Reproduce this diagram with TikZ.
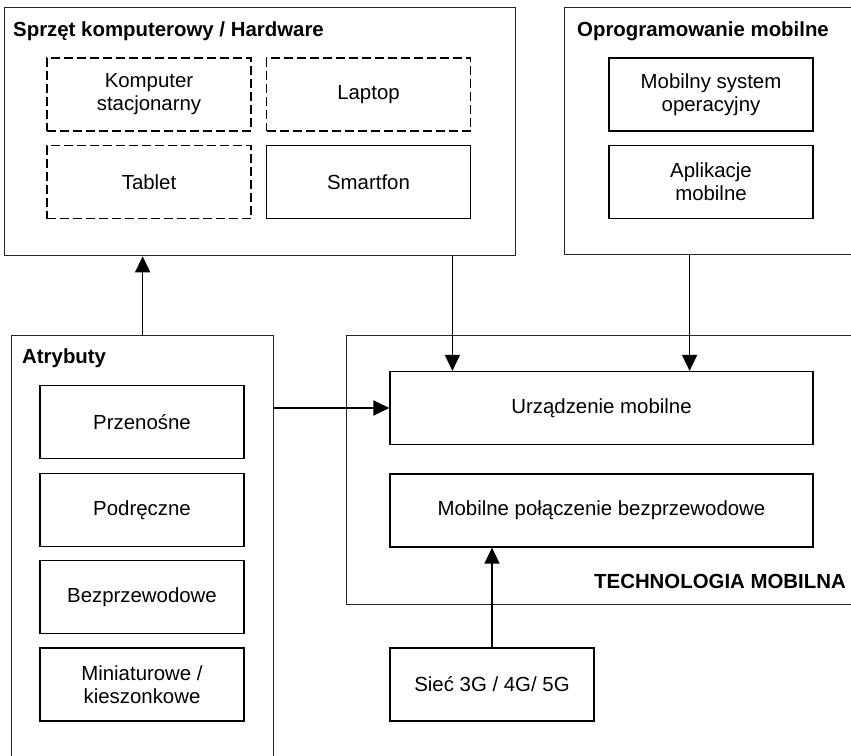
\documentclass[tikz,border=0pt]{standalone}
\usepackage{fontspec}
\setmainfont{Liberation Sans}
\usetikzlibrary{arrows.meta}
\begin{document}
\begin{tikzpicture}[x=1pt,y=-1pt,
  every node/.style={font=\fontsize{20.4}{23}\selectfont, inner sep=0pt},
  group/.style={draw=black!85, line width=1.3pt, anchor=north west},
  item/.style={draw=black, line width=1.2pt, minimum width=204pt, minimum height=73pt, align=center},
  wideitem/.style={item, minimum width=423pt},
  optional/.style={item, dash pattern=on 9pt off 4pt},
  heading/.style={font=\fontsize{20.4}{23}\selectfont\bfseries, anchor=base west},
  link/.style={line width=1.5pt, -{Triangle[length=16pt,width=15pt]}}]
\useasboundingbox (0,0) rectangle (851,755);
\clip (0,0) rectangle (851,755);
\fill[white] (0,0) rectangle (851,755);

% containers
\node[group, minimum width=511pt, minimum height=248pt] (hw) at (4,7) {};
\node[group, minimum width=320pt, minimum height=247pt] (sw) at (564,7) {};
\node[group, minimum width=262pt, minimum height=450pt] (attr) at (11,335) {};
\node[group, minimum width=520pt, minimum height=269pt] (tech) at (346,335) {};

% headings
\node[heading] (hwtitle) at (13,36.5) {Sprzęt komputerowy / Hardware};
\node[heading] (swtitle) at (577,36) {Oprogramowanie mobilne};
\node[heading] (attrtitle) at (22,363) {Atrybuty};
\node[heading] (techtitle) at (594,588) {TECHNOLOGIA MOBILNA};

% hardware
\node[optional] (pc) at (149,94.5) {Komputer\\stacjonarny};
\node[optional] (laptop) at (368.5,94.5) {Laptop};
\node[optional] (tablet) at (149,182) {Tablet};
\node[item] (phone) at (368.5,182) {Smartfon};

% software
\node[item] (os) at (711,94.5) {Mobilny system\\operacyjny};
\node[item] (apps) at (711,182) {Aplikacje\\mobilne};

% attributes
\node[item] (a1) at (142,422) {Przenośne};
\node[item] (a2) at (142,510) {Podręczne};
\node[item] (a3) at (142,597) {Bezprzewodowe};
\node[item] (a4) at (142,684.5) {Miniaturowe /\\kieszonkowe};

% mobile technology
\node[wideitem] (dev) at (601.5,408) {Urządzenie mobilne};
\node[wideitem] (conn) at (601.5,510.5) {Mobilne połączenie bezprzewodowe};
\node[item] (net) at (492,684.5) {Sieć 3G / 4G/ 5G};

% connectors
\draw[link] (attr.north) -- (attr.north |- hw.south);
\draw[link] ([xshift=63pt]dev.north west |- hw.south) -- ([xshift=63pt]dev.north west);
\draw[link] ([xshift=-124pt]dev.north east |- sw.south) -- ([xshift=-124pt]dev.north east);
\draw[link] (attr.east |- dev.west) -- (dev.west);
\draw[link] (net.north) -- (net.north |- conn.south);
\end{tikzpicture}
\end{document}
